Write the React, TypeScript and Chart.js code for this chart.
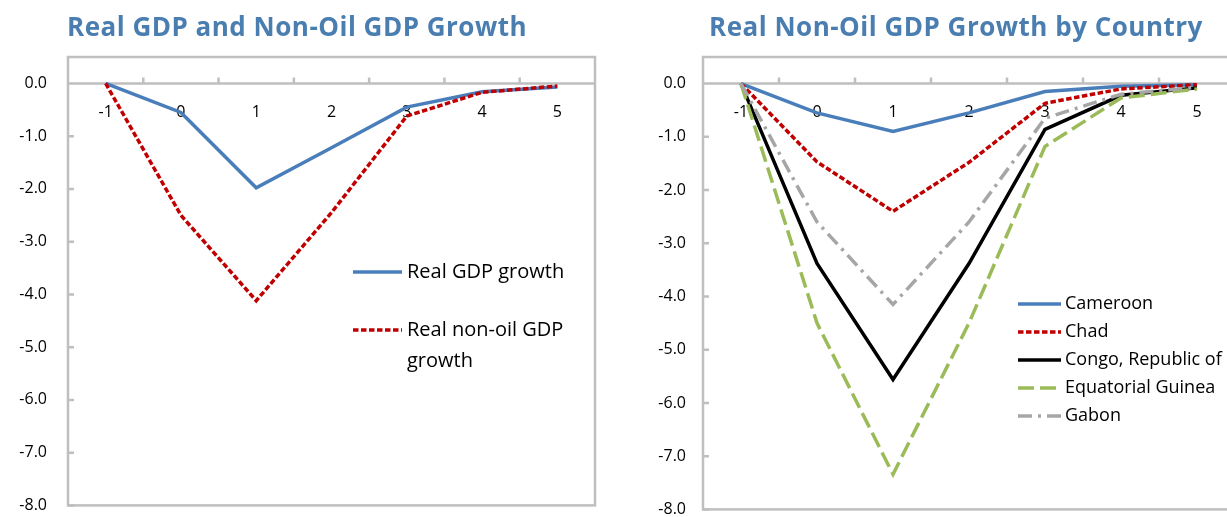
import React, { useEffect, useRef } from "react";
import { Chart, registerables } from "chart.js";

Chart.register(...registerables);

// ---------- data ----------
const periods = ["-1", "0", "1", "2", "3", "4", "5"];
const yTickValues = [0, -1, -2, -3, -4, -5, -6, -7, -8];

const realGdpGrowth = [0, -0.55, -1.98, -1.22, -0.45, -0.16, -0.07];
const realNonOilGdpGrowth = [0, -2.5, -4.12, -2.45, -0.62, -0.17, -0.05];

const cameroon = [0, -0.55, -0.9, -0.55, -0.15, -0.05, -0.02];
const chad = [0, -1.47, -2.4, -1.48, -0.37, -0.1, -0.02];
const congo = [0, -3.38, -5.56, -3.38, -0.86, -0.22, -0.08];
const equatorialGuinea = [0, -4.5, -7.34, -4.5, -1.18, -0.27, -0.1];
const gabon = [0, -2.6, -4.15, -2.6, -0.65, -0.2, -0.07];

const leftSeriesLabels = ["Real GDP growth", "Real non-oil GDP growth"];
const rightSeriesLabels = ["Cameroon", "Chad", "Congo, Republic of", "Equatorial Guinea", "Gabon"];

// ---------- styles ----------
const FONT = "'Open Sans', 'Noto Sans', sans-serif";
const AXIS_GRAY = "#BFBFBF";
const BLUE = "#4A7EBB";
const RED = "#C00000";
const GREEN = "#9BBB59";
const GRAY = "#A6A6A6";
const TITLE_BLUE = "#4A7EB0";

const framePlugin = {
  id: "excelFrame",
  beforeDatasetsDraw(chart: any) {
    const { ctx, chartArea } = chart;
    const { left, right, top, bottom } = chartArea;
    const xs = chart.scales.x;
    const ys = chart.scales.y;
    const y0 = ys.getPixelForValue(0);
    ctx.save();
    ctx.strokeStyle = AXIS_GRAY;
    ctx.lineWidth = 2.5;
    ctx.strokeRect(left, top, right - left, bottom - top);
    ctx.beginPath();
    ctx.moveTo(left, y0);
    ctx.lineTo(right, y0);
    const n = xs.getLabels().length;
    for (let i = 1; i < n; i++) {
      const x = (xs.getPixelForValue(i - 1) + xs.getPixelForValue(i)) / 2;
      ctx.moveTo(x, y0);
      ctx.lineTo(x, y0 - 6);
    }
    ys.ticks.forEach((t: any) => {
      if (t.value === 0) return;
      const y = ys.getPixelForValue(t.value);
      ctx.moveTo(left, y);
      ctx.lineTo(left + 6, y);
    });
    ctx.stroke();
    ctx.restore();
  },
};

const legendPlugin = {
  id: "inlineLegend",
  afterDatasetsDraw(chart: any, _args: any, opts: any) {
    if (!opts || !opts.show) return;
    const { ctx } = chart;
    ctx.save();
    ctx.font = `${opts.fontSize}px ${FONT}`;
    ctx.fillStyle = "#000";
    ctx.textBaseline = "middle";
    ctx.textAlign = "left";
    let y = opts.y;
    chart.data.datasets.forEach((ds: any) => {
      ctx.save();
      ctx.strokeStyle = ds.borderColor;
      ctx.lineWidth = ds.borderWidth;
      ctx.setLineDash(ds.borderDash || []);
      ctx.lineCap = "butt";
      ctx.beginPath();
      ctx.moveTo(opts.x, y);
      ctx.lineTo(opts.x + opts.sample, y);
      ctx.stroke();
      ctx.restore();
      const words = String(ds.label).split(" ");
      const lines: string[] = [];
      let cur = "";
      words.forEach((w) => {
        const test = cur ? cur + " " + w : w;
        if (ctx.measureText(test).width > opts.maxWidth && cur) {
          lines.push(cur);
          cur = w;
        } else cur = test;
      });
      if (cur) lines.push(cur);
      lines.forEach((ln, i) => {
        ctx.fillText(ln, opts.x + opts.sample + opts.gap, y + i * opts.lineHeight);
      });
      y += opts.rowGap + (lines.length - 1) * opts.lineHeight;
    });
    ctx.restore();
  },
};

function makeDataset(label: string, data: number[], color: string, width: number, dash: number[], order: number) {
  return {
    label,
    data,
    borderColor: color,
    backgroundColor: color,
    borderWidth: width,
    borderDash: dash,
    pointRadius: 0,
    pointHoverRadius: 0,
    tension: 0,
    fill: false,
    order,
    borderCapStyle: "butt",
    borderJoinStyle: "miter",
  };
}

function makeOptions(axisWidth: number, labelPad: number, padRight: number, legend: any) {
  return {
    animation: false,
    responsive: false,
    events: [],
    layout: { padding: { top: 57, bottom: 8, left: 0, right: padRight } },
    plugins: {
      legend: { display: false },
      tooltip: { enabled: false },
      title: { display: false },
      inlineLegend: legend,
    },
    scales: {
      x: {
        type: "category",
        offset: true,
        position: { y: 0 },
        grid: { display: false, drawTicks: false },
        border: { display: false },
        ticks: {
          color: "#000",
          font: { family: FONT, size: 16 },
          padding: 19,
          maxRotation: 0,
          autoSkip: false,
        },
      },
      y: {
        type: "linear",
        min: -8,
        max: 0.5,
        grid: { display: false, drawTicks: false },
        border: { display: false },
        afterBuildTicks(scale: any) {
          scale.ticks = yTickValues.map((v) => ({ value: v }));
        },
        afterFit(scale: any) {
          scale.width = axisWidth;
        },
        ticks: {
          color: "#000",
          font: { family: FONT, size: 16 },
          padding: labelPad,
          callback: (v: any) => Number(v).toFixed(1),
        },
      },
    },
  };
}

function LineChart({ config, width, height }: { config: any; width: number; height: number }) {
  const ref = useRef<HTMLCanvasElement | null>(null);
  useEffect(() => {
    if (!ref.current) return;
    const chart = new Chart(ref.current, config);
    return () => chart.destroy();
  }, []);
  return <canvas ref={ref} width={width} height={height} style={{ display: "block" }} />;
}

const CANVAS_H = 536;

export default function App() {
  const leftConfig = {
    type: "line",
    data: {
      labels: periods,
      datasets: [
        makeDataset(leftSeriesLabels[0], realGdpGrowth, BLUE, 3.5, [], 2),
        makeDataset(leftSeriesLabels[1], realNonOilGdpGrowth, RED, 3.5, [5.5, 2.5], 1),
      ],
    },
    options: makeOptions(68, 21, 15, {
      show: true,
      x: 353,
      y: 272,
      sample: 49,
      gap: 5,
      fontSize: 20,
      rowGap: 58,
      lineHeight: 31,
      maxWidth: 175,
    }),
    plugins: [framePlugin, legendPlugin],
  };

  const rightConfig = {
    type: "line",
    data: {
      labels: periods,
      datasets: [
        makeDataset(rightSeriesLabels[0], cameroon, BLUE, 3.5, [], 5),
        makeDataset(rightSeriesLabels[1], chad, RED, 3.5, [5.5, 2.5], 4),
        makeDataset(rightSeriesLabels[2], congo, "#000000", 3.5, [], 3),
        makeDataset(rightSeriesLabels[3], equatorialGuinea, GREEN, 3.5, [16, 6], 2),
        makeDataset(rightSeriesLabels[4], gabon, GRAY, 3.5, [14, 6, 3, 6], 1),
      ],
    },
    options: makeOptions(83, 17, 5, {
      show: true,
      x: 1018 - 620,
      y: 304,
      sample: 43,
      gap: 4,
      fontSize: 18,
      rowGap: 28,
      lineHeight: 28,
      maxWidth: 400,
    }),
    plugins: [framePlugin, legendPlugin],
  };

  const titleStyle: React.CSSProperties = {
    position: "absolute",
    top: 8,
    fontFamily: FONT,
    fontWeight: 700,
    fontSize: 26,
    letterSpacing: "0.5px",
    lineHeight: "36px",
    color: TITLE_BLUE,
    whiteSpace: "nowrap",
    margin: 0,
  };

  return (
    <div
      style={{
        position: "fixed",
        left: 0,
        top: 0,
        width: 1227,
        height: 517,
        overflow: "hidden",
        background: "#fff",
      }}
    >
      <div style={{ position: "absolute", left: 0, top: 0 }}>
        <LineChart config={leftConfig} width={610} height={CANVAS_H} />
      </div>
      <div style={{ position: "absolute", left: 620, top: 0 }}>
        <LineChart config={rightConfig} width={620} height={CANVAS_H} />
      </div>
      <div style={{ ...titleStyle, left: 67 }}>Real GDP and Non-Oil GDP Growth</div>
      <div style={{ ...titleStyle, left: 709 }}>Real Non-Oil GDP Growth by Country</div>
    </div>
  );
}
